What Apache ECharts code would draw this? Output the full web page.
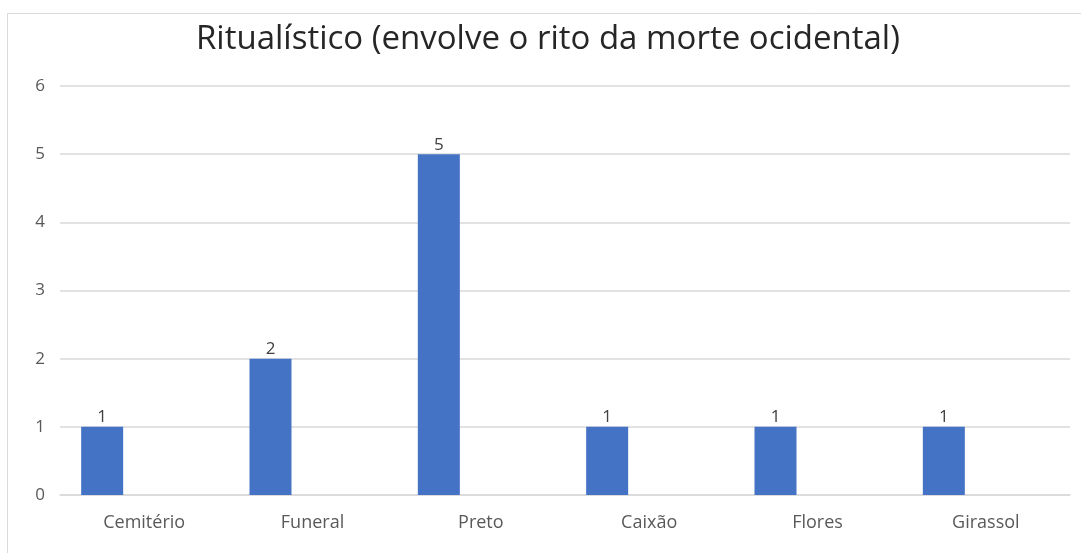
<!DOCTYPE html>
<html>
<head>
<meta charset="utf-8">
<script src="https://cdn.jsdelivr.net/npm/echarts@6/dist/echarts.min.js"></script>
<style>
  html, body { margin: 0; padding: 0; background: #fff; }
  #chart { width: 1081px; height: 553px; }
</style>
</head>
<body>
<div id="chart"></div>
<script>
const categories = ['Cemitério', 'Funeral', 'Preto', 'Caixão', 'Flores', 'Girassol']
const values = [1, 2, 5, 1, 1, 1]
const emptyValues = [null, null, null, null, null, null]
const titleText = 'Ritualístico (envolve o rito da morte ocidental)'

const chart = echarts.init(document.getElementById('chart'))

const option = {
  backgroundColor: '#fff',
  animation: false,
  graphic: [
    {
      type: 'rect',
      shape: { x: 7.5, y: 13.5, width: 1080, height: 600 },
      style: { fill: 'none', stroke: '#d9d9d9', lineWidth: 1 },
      silent: true
    }
  ],
  title: {
    text: titleText,
    left: 191,
    top: 18,
    textStyle: {
      fontFamily: 'Open Sans',
      fontWeight: 'normal',
      fontSize: 33,
      color: '#262626'
    }
  },
  grid: { left: 60, right: 11, top: 86, bottom: 58 },
  xAxis: {
    type: 'category',
    data: categories,
    axisTick: { show: false },
    axisLine: { lineStyle: { color: '#d9d9d9', width: 1.5 } },
    axisLabel: {
      color: '#595959',
      fontFamily: 'Open Sans',
      fontSize: 18,
      margin: 19
    }
  },
  yAxis: {
    type: 'value',
    min: 0,
    max: 6,
    interval: 1,
    axisLine: { show: false },
    axisTick: { show: false },
    splitLine: { lineStyle: { color: '#d9d9d9', width: 1.5 } },
    axisLabel: {
      color: '#595959',
      fontFamily: 'Open Sans',
      fontSize: 17,
      margin: 15
    }
  },
  series: [
    {
      type: 'bar',
      data: values,
      barWidth: 42,
      barGap: '100%',
      itemStyle: { color: '#4472c4' },
      label: {
        show: true,
        position: 'top',
        distance: 1,
        color: '#404040',
        fontFamily: 'Open Sans',
        fontSize: 17
      }
    },
    {
      type: 'bar',
      data: emptyValues,
      barWidth: 42,
      itemStyle: { color: '#ed7d31' }
    }
  ]
}

chart.setOption(option)
</script>
</body>
</html>
